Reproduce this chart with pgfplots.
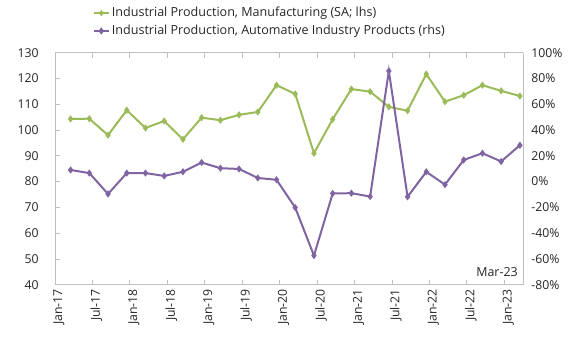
\documentclass[border=0pt]{standalone}
\usepackage{fontspec}
\setmainfont{Open Sans}
\usepackage{pgfplots}
\pgfplotsset{compat=1.18}
\definecolor{grn}{HTML}{9BBB59}
\definecolor{prp}{HTML}{8064A2}
\definecolor{axgray}{HTML}{BFBFBF}
\definecolor{txt}{HTML}{262626}
\begin{document}
\fontsize{12.5}{14}\selectfont
\begin{tikzpicture}
\pgfplotsset{
  common/.style={
    scale only axis, width=468bp, height=232bp,
    xmin=0, xmax=75,
    /pgf/number format/assume math mode=true,
    tick label style={font=\fontsize{12.3}{14}\selectfont, text=txt},
    axis line style={axgray, line width=0.8pt},
    tick style={axgray, line width=0.8pt},
    tick align=inside,
    major tick length=5bp,
  }
}
\begin{axis}[common,
  axis y line*=left,
  ymin=40, ymax=130, ytick={40,50,...,130},
  xtick={0,6,...,72},
  xticklabels={Jan-17,Jul-17,Jan-18,Jul-18,Jan-19,Jul-19,Jan-20,Jul-20,Jan-21,Jul-21,Jan-22,Jul-22,Jan-23},
  xticklabel style={rotate=90, anchor=east, yshift=-4bp},
  yticklabel style={xshift=-12bp},
]
\addplot[grn, line width=2pt, mark=diamond*, mark size=2bp] coordinates {
(2.5,104.3) (5.5,104.4) (8.5,98.0) (11.5,107.7) (14.5,100.8) (17.5,103.5)
(20.5,96.4) (23.5,104.8) (26.5,103.8) (29.5,105.9) (32.5,107.0) (35.5,117.4)
(38.5,114.0) (41.5,91.0) (44.5,104.2) (47.5,115.9) (50.5,114.9) (53.5,109.0)
(56.5,107.5) (59.5,121.7) (62.5,111.0) (65.5,113.5) (68.5,117.4) (71.5,115.2)
(74.5,113.2)};
\end{axis}
\begin{axis}[common,
  axis y line*=right, axis x line=none,
  ymin=-80, ymax=100, ytick={-80,-60,...,100},
  yticklabel={\pgfmathprintnumber{\tick}\%},
  yticklabel style={xshift=4bp},
  major tick length=0pt,
  legend style={at={(axis description cs:0.08,1.205)}, anchor=north west,
    draw=none, fill=none, font=\fontsize{12.6}{14}\selectfont, text=txt,
    row sep=2.5bp, inner sep=0pt, legend cell align=left},
  legend cell align=left,
  legend image code/.code={\draw[mark repeat=2, mark phase=2] plot coordinates {(0cm,0cm) (0.27cm,0cm) (0.54cm,0cm)};},
]
\addlegendimage{grn, line width=2pt, mark=diamond*, mark size=1.5bp}
\addlegendentry{Industrial Production, Manufacturing (SA; lhs)}
\addplot[prp, line width=2pt, mark=diamond*, mark size=2bp] coordinates {
(2.5,9.0) (5.5,6.6) (8.5,-9.6) (11.5,6.6) (14.5,6.6) (17.5,4.4)
(20.5,7.6) (23.5,14.8) (26.5,10.4) (29.5,9.8) (32.5,2.8) (35.5,1.4)
(38.5,-20.2) (41.5,-57.4) (44.5,-9.2) (47.5,-9.0) (50.5,-11.6) (53.5,85.8)
(56.5,-11.8) (59.5,7.6) (62.5,-2.4) (65.5,16.8) (68.5,22.0) (71.5,15.6)
(74.5,28.2)};
\addlegendentry{Industrial Production, Automative Industry Products (rhs)}
\node[anchor=south east, inner sep=0pt, text=txt] at ([xshift=-5bp, yshift=8bp]rel axis cs:1,0) {Mar-23};
\coordinate (sw) at (rel axis cs:0,0);
\coordinate (ne) at (rel axis cs:1,1);
\end{axis}
\pgfresetboundingbox
\path ([shift={(-55bp,-56bp)}]sw) rectangle ([shift={(54bp,52.7bp)}]ne);
\end{tikzpicture}
\end{document}
